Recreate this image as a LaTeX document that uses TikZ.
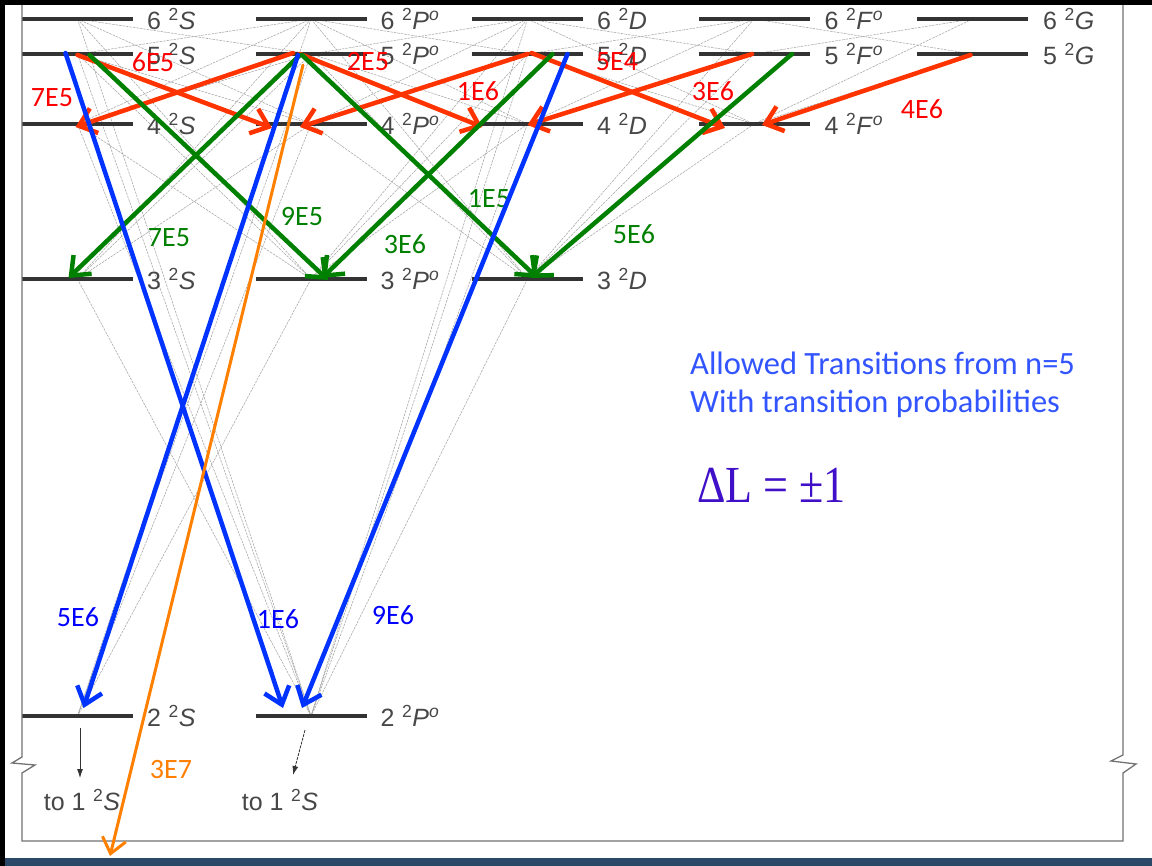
\documentclass[tikz,border=0pt]{standalone}
\usepackage{fontspec}
\setmainfont{Liberation Sans}
\newfontfamily\calfont{Carlito}
\newfontfamily\timesfont{Liberation Serif}
\usetikzlibrary{arrows.meta,positioning,backgrounds}

\definecolor{rarrow}{RGB}{255,51,0}
\definecolor{rtext}{RGB}{255,0,0}
\definecolor{garrow}{RGB}{0,128,0}
\definecolor{barrow}{RGB}{0,51,255}
\definecolor{btext}{RGB}{0,0,255}
\definecolor{oarrow}{RGB}{255,128,0}
\definecolor{notecol}{RGB}{51,85,255}
\definecolor{rulecol}{RGB}{64,16,200}
\definecolor{barcol}{RGB}{44,72,104}

% term symbols
\newcommand{\trm}[2]{#1\hspace{.3em}\textsuperscript{2}\textit{#2}}
\newcommand{\trmo}[2]{#1\hspace{.3em}\textsuperscript{2}\textit{#2}\textsuperscript{\textit{o}}}

\tikzset{
  lvl/.style={fill=black!80, minimum width=111pt, minimum height=4pt, inner sep=0pt, outer sep=0pt},
  term/.style={text=black!72, font=\fontsize{25}{30}\selectfont, inner sep=0pt},
  faint/.style={gray!70, line width=0.55pt, dash pattern=on 2.5pt off 1pt},
  trans/.style={line width=4.5pt, line cap=round, -{Straight Barb[length=16pt,width=26pt]}},
  redarr/.style={trans, rarrow},
  grnarr/.style={trans, garrow},
  bluarr/.style={trans, barrow},
  orgarr/.style={line width=3pt, line cap=round, oarrow, -{Straight Barb[length=15pt,width=24pt]}},
  prob/.style={font=\calfont\fontsize{28}{32}\selectfont, inner sep=0pt},
  note/.style={font=\calfont\fontsize{32.5}{38}\selectfont, text=notecol, inner sep=0pt, anchor=base west},
}

\begin{document}
\begin{tikzpicture}[x=1pt,y=-1pt]
\useasboundingbox (0,0) rectangle (1152,866);

% levels
\foreach \n/\y in {6/19,5/54,4/124,3/279,2/716}{
  \node[lvl] (S\n) at (77.5,\y) {};
  \node[term, anchor=west, right=14pt of S\n] (tS\n) {\trm{\n}{S}};
  \node[lvl] (P\n) at (311,\y) {};
  \node[term, anchor=west, right=14pt of P\n] (tP\n) {\trmo{\n}{P}};
}
\foreach \n/\y in {6/19,5/54,4/124,3/279}{
  \node[lvl] (D\n) at (527.5,\y) {};
  \node[term, anchor=west, right=14pt of D\n] (tD\n) {\trm{\n}{D}};
}
\foreach \n/\y in {6/19,5/54,4/124}{
  \node[lvl] (F\n) at (754,\y) {};
  \node[term, anchor=west, right=15pt of F\n] (tF\n) {\trmo{\n}{F}};
}
\foreach \n/\y in {6/19,5/54}{
  \node[lvl] (G\n) at (972.5,\y) {};
  \node[term, anchor=west, right=15pt of G\n] (tG\n) {\trm{\n}{G}};
}

% scanned diagram: page, frame and all the faint lines
\begin{scope}[on background layer]
\fill[white] (0,0) rectangle (1152,866);
\foreach \u/\l in {P3/S2,P4/S2,P5/S2,P6/S2,S3/P2,S4/P2,S5/P2,S6/P2,D3/P2,D4/P2,D5/P2,D6/P2,
  P4/S3,P5/S3,P6/S3,S4/P3,S5/P3,S6/P3,D4/P3,D5/P3,D6/P3,P4/D3,P5/D3,P6/D3,F4/D3,F5/D3,F6/D3,
  P5/S4,P6/S4,S5/P4,S6/P4,D5/P4,D6/P4,P5/D4,P6/D4,F5/D4,F6/D4,D5/F4,D6/F4,G5/F4,G6/F4,
  P6/S5,S6/P5,D6/P5,P6/D5,F6/D5,D6/F5,G6/F5,F6/G5}
  \draw[faint] (\u.center) -- (\l.center);
\end{scope}
\draw[black!55, line width=1.3pt] (22,5) -- (22,757) -- (12,763) -- (35,765) -- (22,773) -- (22,841)
  -- (1123,841) -- (1123,773) -- (1136,764) -- (1111,761) -- (1123,755) -- (1123,5);
\fill[barcol] (0,858) rectangle (1152,866);
\fill[black] (0,0) rectangle (5,866);
\fill[black] (0,0) rectangle (1152,5);

% decay to the ground state
\node[term, anchor=north] (to1) at (82,789) {\trm{to 1}{S}};
\node[term, anchor=north] (to2) at (280,789) {\trm{to 1}{S}};
\draw[black!80, line width=0.8pt, -{Latex[length=9pt,width=6pt]}] ([xshift=2.5,yshift=-12]S2.center) -- ([xshift=-2,yshift=11]to1.north);
\draw[black!80, line width=0.8pt, dash pattern=on 3pt off 1pt, -{Latex[length=9pt,width=6pt]}] ([xshift=-6,yshift=-14]P2.center) -- ([xshift=13,yshift=14]to2.north);

% n=5 -> n=4 (red)
\draw[redarr] ([yshift=-1]S5.center) -- ([xshift=-39,yshift=-4]P4.center);
\draw[redarr] ([xshift=-18,yshift=1]P5.center) -- ([xshift=-2,yshift=-3]S4.center);
\draw[redarr] ([xshift=-11]P5.center) -- ([xshift=-45,yshift=-3]D4.center);
\draw[redarr] (D5.center) -- ([xshift=-11,yshift=-3]P4.center);
\draw[redarr] ([xshift=4,yshift=1]D5.center) -- ([xshift=-29,yshift=-4]F4.center);
\draw[redarr] ([xshift=-2]F5.center) -- ([xshift=0,yshift=-1]D4.center);
\draw[redarr] ([xshift=-2,yshift=-1]G5.center) -- ([xshift=8,yshift=-1]F4.center);
\node[prob, text=rtext] (r1) at (153,62) {6E5};
\node[prob, text=rtext] (r2) at (52,98) {7E5};
\node[prob, text=rtext] (r3) at (368,62) {2E5};
\node[prob, text=rtext] (r4) at (478,91) {1E6};
\node[prob, text=rtext] (r5) at (617,62) {5E4};
\node[prob, text=rtext] (r6) at (713,91) {3E6};
\node[prob, text=rtext] (r7) at (922,109) {4E6};

% n=5 -> n=3 (green)
\draw[grnarr] ([xshift=12,yshift=-1]S5.center) -- ([xshift=17,yshift=-1]P3.center);
\draw[grnarr] ([xshift=-11,yshift=-1]P5.center) -- ([xshift=-9,yshift=1]S3.center);
\draw[grnarr] ([xshift=-9,yshift=-1]P5.center) -- ([xshift=10,yshift=1]D3.center);
\draw[grnarr] ([xshift=25]D5.center) -- ([xshift=11,yshift=1]P3.center);
\draw[grnarr] ([xshift=38]F5.center) -- ([xshift=3,yshift=1]D3.center);
\node[prob, text=garrow] (g1) at (302,217) {9E5};
\node[prob, text=garrow] (g2) at (169,238) {7E5};
\node[prob, text=garrow] (g3) at (489,199) {1E5};
\node[prob, text=garrow] (g4) at (405,244) {3E6};
\node[prob, text=garrow] (g5) at (634,234) {5E6};

% n=5 -> n=2 (blue)
\draw[bluarr] ([xshift=-12,yshift=1]S5.center) -- ([xshift=-28,yshift=8]P2.center);
\draw[bluarr] ([xshift=-13,yshift=-1]P5.center) -- ([xshift=6,yshift=8]S2.center);
\draw[bluarr] ([xshift=40]D5.center) -- ([xshift=-9,yshift=8]P2.center);
\node[prob, text=btext] (b1) at (78,617) {5E6};
\node[prob, text=btext] (b2) at (278,619) {1E6};
\node[prob, text=btext] (b3) at (393,615) {9E6};

% n=5 -> n=1 (orange)
\coordinate (gnd) at (110,856);
\draw[orgarr] ([xshift=-8,yshift=-11]P5.center) -- (gnd);
\node[prob, text=oarrow] (o1) at (171,770) {3E7};

% notes
\node[note] (nt1) at (690,375) {Allowed Transitions from n=5};
\node[note] (nt2) at (690,413) {With transition probabilities};
\node[inner sep=0pt, anchor=base west, text=rulecol, font=\timesfont\fontsize{52}{60}\selectfont] (dl) at (697,503)
  {\scalebox{0.85}[1]{ΔL = ±1}};
\end{tikzpicture}
\end{document}
